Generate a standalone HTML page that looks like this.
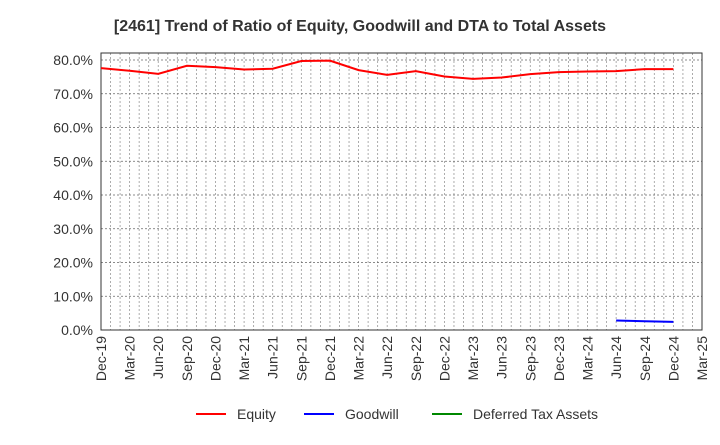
<!DOCTYPE html>
<html><head><meta charset="utf-8"><style>
body{margin:0;background:#fff;font-family:"Liberation Sans",Arial,sans-serif}
svg text{font-family:"Liberation Sans",Arial,sans-serif;fill:#333}
</style></head><body>
<svg id="c" width="720" height="440" xmlns="http://www.w3.org/2000/svg"></svg>
<script>
const categories=["Dec-19","Mar-20","Jun-20","Sep-20","Dec-20","Mar-21","Jun-21","Sep-21","Dec-21","Mar-22","Jun-22","Sep-22","Dec-22","Mar-23","Jun-23","Sep-23","Dec-23","Mar-24","Jun-24","Sep-24","Dec-24","Mar-25"];
const equity=[77.6,76.8,75.9,78.3,77.9,77.2,77.4,79.7,79.8,77.0,75.6,76.7,75.1,74.4,74.8,75.8,76.4,76.6,76.7,77.3,77.3,null];
const goodwill=[null,null,null,null,null,null,null,null,null,null,null,null,null,null,null,null,null,null,2.8,2.6,2.4,null];
const dta=[];
const yTicks=[0,10,20,30,40,50,60,70,80];
const NS="http://www.w3.org/2000/svg";
const svg=document.getElementById('c');
const L=101,R=702,T=53,B=330,ymax=80;
const x=i=>L+i*(R-L)/(categories.length-1);
const y=v=>B-v*(B-60)/ymax;
function mk(t,a,p){const e=document.createElementNS(NS,t);for(const k in a)e.setAttribute(k,a[k]);(p||svg).appendChild(e);return e;}
const title=mk('text',{x:360,y:31,'text-anchor':'middle','font-size':16,'font-weight':'bold'});


title.textContent="[2461]  Trend of Ratio of Equity, Goodwill and DTA to Total Assets";
for(let m=1;m<(categories.length-1)*3;m++){const xx=L+m*(R-L)/((categories.length-1)*3);
const g=mk('line',{x1:xx,x2:xx,y1:T,y2:B,stroke:'#999','stroke-dasharray':'2,2','stroke-width':0.8});

}
yTicks.forEach(v=>{const g=mk('line',{x1:L,x2:R,y1:y(v),y2:y(v),stroke:'#666','stroke-dasharray':'2,2','stroke-width':0.8});


const t=mk('text',{x:L-8,y:y(v)+5,'text-anchor':'end','font-size':14});


t.textContent=v.toFixed(1)+"%";});
const frame=mk('rect',{x:L,y:T,width:R-L,height:B-T,fill:'none',stroke:'#333','stroke-width':1});


categories.forEach((c,i)=>{const t=mk('text',{transform:`translate(${x(i)+5},${B+6}) rotate(-90)`,'text-anchor':'end','font-size':14});


t.textContent=c;});
function line(d,col,name){let p='';d.forEach((v,i)=>{if(v==null)return;p+=(p?'L':'M')+x(i)+','+y(v);});
if(!p)return;const e=mk('path',{d:p,fill:'none',stroke:col,'stroke-width':2});

}
line(equity,'#f00','equity-line');
line(goodwill,'#00f','goodwill-line');
line(dta,'#080','dta-line');
[["Equity","#f00",196],["Goodwill","#00f",304],["Deferred Tax Assets","#080",432]].forEach(l=>{
const g=mk('g',{});


mk('line',{x1:l[2],x2:l[2]+30,y1:414,y2:414,stroke:l[1],'stroke-width':2},g);
const t=mk('text',{x:l[2]+41,y:419,'font-size':14},g);t.textContent=l[0];});
</script>
</body></html>
